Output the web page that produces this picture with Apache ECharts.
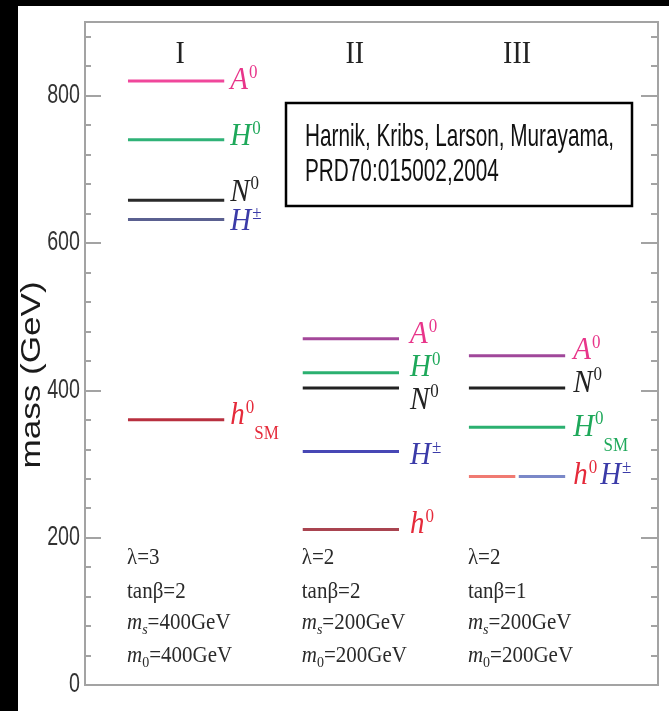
<!DOCTYPE html>
<html>
<head>
<meta charset="utf-8">
<script src="https://cdn.jsdelivr.net/npm/echarts@6/dist/echarts.min.js"></script>
<style>
  html, body { margin: 0; padding: 0; background: #000; width: 669px; height: 711px; overflow: hidden; }
  #chart { position: absolute; left: 18px; top: 6px; width: 651px; height: 705px; background: #fff; }
</style>
</head>
<body>
<div id="chart"></div>
<script>
// Higgs-sector mass spectra (GeV) for three benchmark parameter points
const columnNames = ['I', 'II', 'III'];
const stateKeys = ['A0', 'H0', 'N0', 'Hpm', 'h0'];
const massI = [820, 740, 658, 632, 360];
const massII = [470, 424, 403, 317, 211];
const massIII = [447, 350, 403, 283, 283];
const smState = ['h0', null, 'H0'];          // state carrying the "SM" subscript
const lambdaValues = ['3', '2', '2'];
const tanBetaValues = ['2', '2', '1'];
const mSValues = ['400', '200', '200'];
const m0Values = ['400', '200', '200'];
const yTicks = [0, 200, 400, 600, 800];
const yAxisTitle = 'mass (GeV)';
const citationLines = ['Harnik, Kribs, Larson, Murayama,', 'PRD70:015002,2004'];

const massByColumn = [massI, massII, massIII];

// ---- layout & style ----
const colCenter = [0.159, 0.464, 0.754];   // column centres on the hidden x axis (0..1)
const halfWidth = 0.084;
const splitGap = 0.003;
const headerShift = [4, 4, 0];
const labelGap = [6, 11, 8];
const labelNudge = [
  [0, -3, -8, 2, -4],
  [-4, -5, 12, 4, -5],
  [-5, 0, -5, -1, -1]
];
const lineColors = [
  ['#f0479b', '#2fb277', '#2a2a2a', '#5a6090', '#b8303f'],
  ['#a4479a', '#2bb070', '#222222', '#4747b5', '#a94450'],
  ['#a0479a', '#2bb070', '#222222', '#7a88c8', '#f07a72']
];
const textColors = { A0: '#e8358a', H0: '#1ea85a', N0: '#222222', Hpm: '#3b3ba8', h0: '#e52a3a' };
const glyphs = { A0: ['A', '0'], H0: ['H', '0'], N0: ['N', '0'], Hpm: ['H', '±'], h0: ['h', '0'] };
const SERIF = "'Liberation Serif', 'Times New Roman', serif";
const SANS = "'Liberation Sans', Arial, sans-serif";
const FRAME = '#a3a3a3';

// rich styles for the particle labels
const labelRich = {};
stateKeys.forEach(k => {
  const col = textColors[k];
  labelRich[k + 'm'] = { fontFamily: SERIF, fontStyle: 'italic', fontSize: 29, fill: col, lineHeight: 30 };
  labelRich[k + 's'] = { fontFamily: SERIF, fontSize: 17, fill: col, padding: [0, 0, 14, 1] };
  labelRich[k + 'b'] = { fontFamily: SERIF, fontSize: 17, fill: col, padding: [34, 0, 0, 0] };
  labelRich[k + 'sp'] = { fontFamily: SERIF, fontSize: 12, fill: col };
});

function labelFor(c, s) {
  const k = stateKeys[s];
  const g = glyphs[k];
  let t = '{' + k + 'm|' + g[0] + '}{' + k + 's|' + g[1] + '}';
  if (smState[c] === k) t += '{' + k + 'b|SM}';
  return t;
}

const levelData = [];
massByColumn.forEach((masses, c) => {
  masses.forEach((m, s) => levelData.push([c, m, s]));
});

function renderLevel(params, api) {
  const c = api.value(0), m = api.value(1), s = api.value(2);
  const masses = massByColumn[c];
  const partner = masses.findIndex((v, i) => i !== s && v === m);
  let x0 = colCenter[c] - halfWidth, x1 = colCenter[c] + halfWidth;
  let isLeft = false;
  if (partner >= 0) {
    isLeft = s > partner;
    if (isLeft) x1 = colCenter[c] - splitGap; else x0 = colCenter[c] + splitGap;
  }
  const p0 = api.coord([x0, m]);
  const p1 = api.coord([x1, m]);
  const children = [{
    type: 'line',
    shape: { x1: p0[0], y1: p0[1], x2: p1[0], y2: p1[1] },
    style: { stroke: lineColors[c][s], lineWidth: 3 }
  }];
  if (!isLeft) {
    let text = labelFor(c, s);
    if (partner >= 0) {
      text = labelFor(c, partner) + '{' + stateKeys[s] + 'sp| }' + text;
    }
    children.push({
      type: 'text',
      x: p1[0] + labelGap[c],
      y: p1[1] + labelNudge[c][s],
      scaleY: 1.1,
      style: { text: text, rich: labelRich, align: 'left', verticalAlign: 'middle' }
    });
  }
  return { type: 'group', children: children };
}

// per-column header numeral and parameter block
const paramRich = {
  p: { fontFamily: SERIF, fontSize: 21, fill: '#2a2a2a' },
  pi: { fontFamily: SERIF, fontStyle: 'italic', fontSize: 21, fill: '#2a2a2a' },
  ps: { fontFamily: SERIF, fontStyle: 'italic', fontSize: 14, fill: '#2a2a2a', padding: [13, 0, 0, 0] },
  pz: { fontFamily: SERIF, fontSize: 14, fill: '#2a2a2a', padding: [13, 0, 0, 0] }
};
const paramRows = [-127, -93, -62, -29];

function renderColumnInfo(params, api) {
  const c = api.value(0);
  const top = api.coord([colCenter[c], 900]);
  const base = api.coord([colCenter[c] - halfWidth, 0]);
  const lines = [
    '{p|λ=' + lambdaValues[c] + '}',
    '{p|tanβ=' + tanBetaValues[c] + '}',
    '{pi|m}{ps|s}{p|=' + mSValues[c] + 'GeV}',
    '{pi|m}{pz|0}{p|=' + m0Values[c] + 'GeV}'
  ];
  const children = [{
    type: 'text',
    x: top[0] + headerShift[c], y: top[1] + 33, scaleY: 1.1,
    style: { text: columnNames[c], fontFamily: SERIF, fontSize: 28, fill: '#222', align: 'center', verticalAlign: 'middle' }
  }];
  lines.forEach((t, i) => {
    children.push({
      type: 'text',
      x: base[0] - 1, y: base[1] + paramRows[i], scaleY: 1.1,
      style: { text: t, rich: paramRich, align: 'left', verticalAlign: 'middle' }
    });
  });
  return { type: 'group', children: children };
}

// mass tick labels, set in a condensed sans face
function renderTickLabel(params, api) {
  const p = api.coord([0, api.value(0)]);
  return {
    type: 'text',
    x: p[0] - 5, y: p[1], scaleX: 0.82, scaleY: 1.12,
    style: { text: String(api.value(0)), fontFamily: SANS, fontSize: 24, fill: '#333', align: 'right', verticalAlign: 'middle' }
  };
}

const chart = echarts.init(document.getElementById('chart'), null, { renderer: 'canvas' });

const tickAxis = (position, interval, len) => ({
  type: 'value',
  position: position,
  min: 0, max: 900, interval: interval,
  axisLine: { show: false },
  splitLine: { show: false },
  axisTick: { show: true, inside: true, length: len, lineStyle: { color: FRAME, width: 2 } },
  axisLabel: { show: false }
});

chart.setOption({
  animation: false,
  grid: {
    left: 67, right: 11, top: 16, bottom: 26,
    containLabel: false, outerBoundsMode: 'none',
    show: true, borderColor: FRAME, borderWidth: 2, backgroundColor: 'transparent'
  },
  xAxis: { type: 'value', min: 0, max: 1, show: false },
  yAxis: [
    tickAxis('left', 200, 16),
    tickAxis('left', 40, 6),
    tickAxis('right', 200, 17),
    tickAxis('right', 40, 7)
  ],
  graphic: [
    { type: 'text', x: 15, y: 369, rotation: Math.PI / 2, scaleX: 1.3,
      style: { text: yAxisTitle, fontFamily: SANS, fontSize: 27, fill: '#1a1a1a', align: 'center', verticalAlign: 'middle' } },
    { type: 'rect', x: 268, y: 97, shape: { width: 346, height: 103 }, style: { fill: '#fff', stroke: '#000', lineWidth: 2.5 } },
    { type: 'text', x: 287, y: 131, scaleX: 0.83, scaleY: 1.25, style: { text: citationLines[0], fontFamily: SANS, fontSize: 25, fill: '#111', verticalAlign: 'middle' } },
    { type: 'text', x: 287, y: 166, scaleX: 0.83, scaleY: 1.25, style: { text: citationLines[1], fontFamily: SANS, fontSize: 25, fill: '#111', verticalAlign: 'middle' } }
  ],
  series: [
    { type: 'custom', name: 'levels', coordinateSystem: 'cartesian2d', clip: false, data: levelData, renderItem: renderLevel },
    { type: 'custom', name: 'columns', coordinateSystem: 'cartesian2d', clip: false,
      data: columnNames.map((n, i) => [i]), encode: { x: 0, y: 0 }, renderItem: renderColumnInfo },
    { type: 'custom', name: 'ticks', coordinateSystem: 'cartesian2d', clip: false,
      data: yTicks.map(v => [v]), encode: { y: 0 }, renderItem: renderTickLabel }
  ]
});
</script>
</body>
</html>
